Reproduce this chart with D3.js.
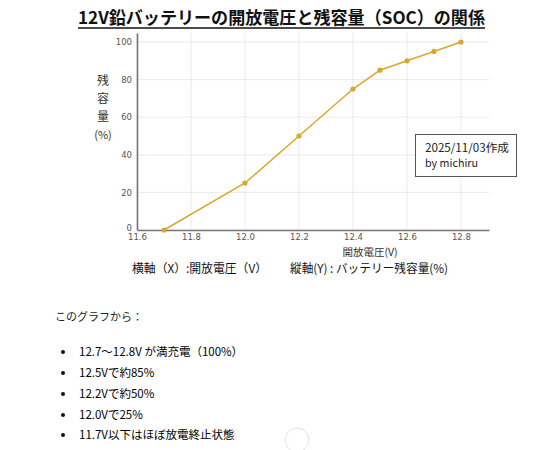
<!DOCTYPE html>
<html>
<head>
<meta charset="utf-8">
<script src="https://cdn.jsdelivr.net/npm/d3@7"></script>
<style>
  body { margin: 0; background: #fff; }
  text { font-family: "Noto Sans CJK JP", "Noto Sans", sans-serif; }
</style>
</head>
<body>
<script>
// データ
const voltage = [11.7, 12.0, 12.2, 12.4, 12.5, 12.6, 12.7, 12.8]
const soc = [0, 25, 50, 75, 85, 90, 95, 100]
const xTicks = [11.6, 11.8, 12.0, 12.2, 12.4, 12.6, 12.8]
const yTicks = [0, 20, 40, 60, 80, 100]
const notes = [
    "12.7〜12.8V が満充電（100%）",
    "12.5Vで約85%",
    "12.2Vで約50%",
    "12.0Vで25%",
    "11.7V以下はほぼ放電終止状態"
]

const width = 550, height = 450
const plot = { left: 137, right: 489, top: 33, bottom: 230 }
const lineColor = "#dba72a"

const svg = d3.select("body").append("svg")
    .attr("width", width)
    .attr("height", height)

// タイトル
svg.append("text")
    .attr("x", 78)
    .attr("y", 24)
    .attr("font-size", 17.5)
    .attr("font-weight", "bold")
    .attr("fill", "#111")
    .attr("textLength", 407)
    .attr("lengthAdjust", "spacingAndGlyphs")
    .text("12V鉛バッテリーの開放電圧と残容量（SOC）の関係")
svg.append("line")
    .attr("x1", 78).attr("x2", 485)
    .attr("y1", 28).attr("y2", 28)
    .attr("stroke", "#111")
    .attr("stroke-width", 1.5)

// スケール
const x = d3.scaleLinear().domain([11.6, 12.904]).range([plot.left, plot.right])
const y = d3.scaleLinear().domain([0, 104.8]).range([plot.bottom, plot.top])

// グリッド
const grid = svg.append("g")
grid.selectAll(".vg").data(xTicks).join("line")
    .attr("x1", d => x(d)).attr("x2", d => x(d))
    .attr("y1", plot.top).attr("y2", plot.bottom)
    .attr("stroke", "#e4e4e4").attr("stroke-width", 0.8)
grid.selectAll(".hg").data(yTicks).join("line")
    .attr("x1", plot.left).attr("x2", plot.right)
    .attr("y1", d => y(d)).attr("y2", d => y(d))
    .attr("stroke", "#e4e4e4").attr("stroke-width", 0.8)

// 軸
const xAxis = svg.append("g")
    .attr("transform", `translate(0, ${plot.bottom})`)
    .call(d3.axisBottom(x).tickValues(xTicks).tickFormat(d3.format(".1f")).tickSize(0).tickPadding(4))
const yAxis = svg.append("g")
    .attr("transform", `translate(${plot.left}, 0)`)
    .call(d3.axisLeft(y).tickValues(yTicks).tickSize(0).tickPadding(5))
;[xAxis, yAxis].forEach(a => {
    a.select(".domain").attr("stroke", "#777").attr("stroke-width", 1.6)
    a.selectAll("text")
        .attr("fill", "#555")
        .attr("font-size", 8.5)
        .style("font-family", "'DejaVu Sans', sans-serif")
})
// 0 のラベルは少し上へ（11.6 と重ならないように）
yAxis.selectAll(".tick text").filter(d => d === 0).attr("dy", "0.1em")

// 折れ線
const pts = voltage.map((v, i) => [v, soc[i]])
svg.append("path")
    .datum(pts)
    .attr("fill", "none")
    .attr("stroke", lineColor)
    .attr("stroke-width", 1.5)
    .attr("d", d3.line().x(d => x(d[0])).y(d => y(d[1])))
svg.selectAll(".pt").data(pts).join("circle")
    .attr("cx", d => x(d[0]))
    .attr("cy", d => y(d[1]))
    .attr("r", 2.6)
    .attr("fill", lineColor)

// 軸ラベル
const yLabel = ["残", "容", "量", "(%)"]
svg.selectAll(".yl").data(yLabel).join("text")
    .attr("x", 103)
    .attr("y", (d, i) => 85 + i * 18)
    .attr("text-anchor", "middle")
    .attr("font-size", d => d.length > 1 ? 11 : 12)
    .attr("fill", "#333")
    .text(d => d)
svg.append("text")
    .attr("x", 370)
    .attr("y", 256)
    .attr("text-anchor", "middle")
    .attr("font-size", 10.5)
    .attr("fill", "#333")
    .text("開放電圧(V)")

// 注記ボックス
svg.append("rect")
    .attr("x", 415.5).attr("y", 134.5)
    .attr("width", 101).attr("height", 42)
    .attr("fill", "#fff")
    .attr("stroke", "#555")
    .attr("stroke-width", 1)
svg.append("text")
    .attr("x", 425).attr("y", 152)
    .attr("font-size", 11.5).attr("fill", "#222")
    .attr("textLength", 84)
    .attr("lengthAdjust", "spacingAndGlyphs")
    .text("2025/11/03作成")
svg.append("text")
    .attr("x", 425).attr("y", 167)
    .attr("font-size", 11).attr("fill", "#222")
    .attr("textLength", 53)
    .attr("lengthAdjust", "spacingAndGlyphs")
    .text("by michiru")

// キャプション
svg.append("text")
    .attr("x", 132).attr("y", 273)
    .attr("font-size", 12).attr("fill", "#111")
    .attr("textLength", 135)
    .attr("lengthAdjust", "spacingAndGlyphs")
    .text("横軸（X）:開放電圧（V）")
svg.append("text")
    .attr("x", 290).attr("y", 273)
    .attr("font-size", 12).attr("fill", "#111")
    .attr("textLength", 158)
    .attr("lengthAdjust", "spacingAndGlyphs")
    .text("縦軸(Y) : バッテリー残容量(%)")

// 説明文
svg.append("text")
    .attr("x", 55).attr("y", 321)
    .attr("font-size", 11).attr("fill", "#222")
    .text("このグラフから：")
const lineY = [352, 373, 394, 415, 435]
const list = svg.append("g")
list.selectAll("circle").data(notes).join("circle")
    .attr("cx", 63)
    .attr("cy", (d, i) => lineY[i])
    .attr("r", 2)
    .attr("fill", "#111")
list.selectAll("text").data(notes).join("text")
    .attr("x", 79)
    .attr("y", (d, i) => lineY[i] + 4)
    .attr("font-size", 11.5)
    .attr("fill", "#000")
    .text(d => d)

// 下部の丸
svg.append("circle")
    .attr("cx", 297).attr("cy", 440).attr("r", 12)
    .attr("fill", "none").attr("stroke", "#e2e2e2")
</script>
</body>
</html>
